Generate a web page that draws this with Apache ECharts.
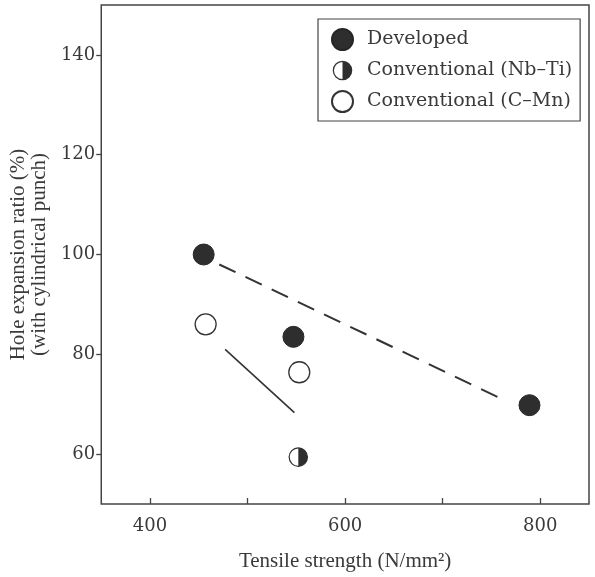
<!DOCTYPE html>
<html>
<head>
<meta charset="utf-8">
<script src="https://cdn.jsdelivr.net/npm/echarts@6/dist/echarts.min.js"></script>
<style>
  html, body { margin: 0; padding: 0; background: #fff; }
  #chart { width: 595px; height: 577px; }
</style>
</head>
<body>
<div id="chart"></div>
<script>
// points: [tensile strength, hole expansion ratio]
var developed = [[455, 100], [547, 83.5], [789, 69.8]];
var nbTi = [[552, 59.4]];
var cMn = [[457, 86], [553, 76.4]];
// trend lines
var dashedTrend = [[471, 98], [758, 71.3]];
var solidTrend = [[477, 81], [548, 68.3]];

var xTicks = [400, 500, 600, 700, 800];
var xLabels = [400, 600, 800];
var yTicks = [60, 80, 100, 120, 140];

var FONT = 'Liberation Serif';
var WIDE = 'DejaVu Serif';
var INK = '#3a3a3a';

var halfSvg = "<svg xmlns='http://www.w3.org/2000/svg' width='22' height='22'>" +
    "<circle cx='11' cy='11' r='9.6' fill='white' stroke='#333' stroke-width='1.3'/>" +
    "<path d='M11 1.4 A9.6 9.6 0 0 1 11 20.6 Z' fill='#2e2e2e'/></svg>";
var halfIcon = 'image://data:image/svg+xml;charset=utf-8,' + encodeURIComponent(halfSvg);

var myChart = echarts.init(document.getElementById('chart'));

var option = {
    animation: false,
    textStyle: { fontFamily: FONT, color: INK },
    grid: {
        left: 98, right: 6, top: 5, bottom: 65,
        show: true, borderColor: '#444', borderWidth: 1.5
    },
    legend: {
        data: ['Developed', 'Conventional (Nb\u2013Ti)', 'Conventional (C\u2013Mn)'],
        orient: 'vertical',
        left: 318, top: 19,
        padding: [9, 8, 8, 13],
        itemGap: 9,
        itemWidth: 21, itemHeight: 21,
        borderColor: '#444', borderWidth: 1.2,
        textStyle: { fontFamily: WIDE, fontSize: 19, color: INK, padding: [0, 0, 0, 9] }
    },
    xAxis: {
        type: 'value',
        min: 350, max: 850,
        name: 'Tensile strength (N/mm\u00b2)',
        nameLocation: 'middle',
        nameGap: 47,
        nameTextStyle: { fontFamily: FONT, fontSize: 21, color: INK },
        axisLine: { show: false },
        splitLine: { show: false },
        axisTick: { show: true, inside: true, length: 6, customValues: xTicks,
            lineStyle: { color: '#444', width: 1.3 } },
        axisLabel: { customValues: xLabels, fontFamily: WIDE, fontSize: 18, color: INK, margin: 13 }
    },
    yAxis: {
        type: 'value',
        min: 50, max: 150,
        name: 'Hole expansion ratio (%)\n(with cylindrical punch)',
        nameLocation: 'middle',
        nameGap: 41,
        nameTextStyle: { fontFamily: FONT, fontSize: 21, color: INK, lineHeight: 21 },
        axisLine: { show: false },
        splitLine: { show: false },
        axisTick: { show: true, inside: false, length: 5, customValues: yTicks,
            lineStyle: { color: '#444', width: 1.3 } },
        axisLabel: { customValues: yTicks, fontFamily: WIDE, fontSize: 18, color: INK, margin: 6 }
    },
    series: [
        {
            name: 'trend developed',
            type: 'line',
            data: dashedTrend,
            symbol: 'none',
            lineStyle: { color: '#333', width: 2, type: [18, 11] },
            z: 1
        },
        {
            name: 'trend conventional',
            type: 'line',
            data: solidTrend,
            symbol: 'none',
            lineStyle: { color: '#333', width: 1.6 },
            z: 1
        },
        {
            name: 'Developed',
            type: 'scatter',
            data: developed,
            symbol: 'circle',
            symbolSize: 21,
            itemStyle: { color: '#2e2e2e', borderColor: '#262626', borderWidth: 1, opacity: 1 },
            z: 3
        },
        {
            name: 'Conventional (Nb\u2013Ti)',
            type: 'scatter',
            data: nbTi,
            symbol: halfIcon,
            symbolSize: 21,
            itemStyle: { opacity: 1 },
            z: 3
        },
        {
            name: 'Conventional (C\u2013Mn)',
            type: 'scatter',
            data: cMn,
            symbol: 'circle',
            symbolSize: 21,
            itemStyle: { color: '#fff', borderColor: '#333', borderWidth: 1.3, opacity: 1 },
            z: 3
        }
    ]
};
myChart.setOption(option);
</script>
</body>
</html>
